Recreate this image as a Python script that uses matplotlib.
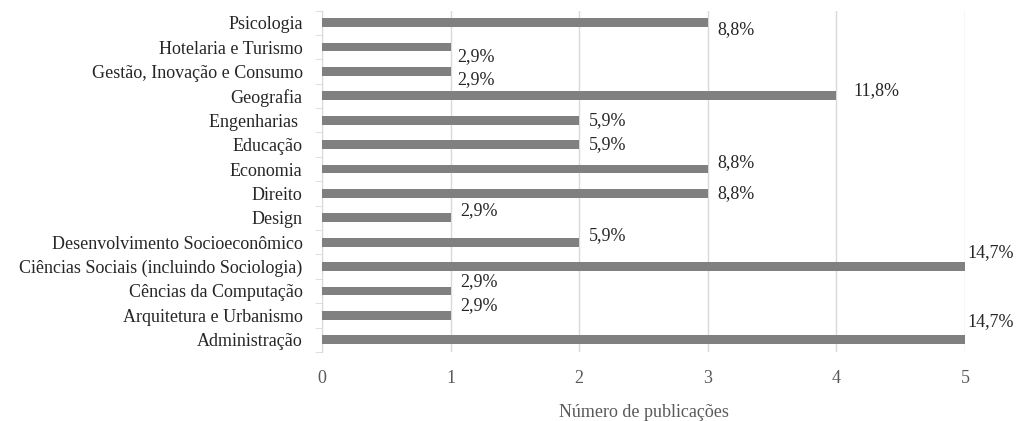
import numpy as np
import matplotlib.pyplot as plt

plt.rcParams['font.family'] = ['Liberation Serif', 'DejaVu Serif']

areas = [
    "Administração",
    "Arquitetura e Urbanismo",
    "Cências da Computação",
    "Ciências Sociais (incluindo Sociologia)",
    "Desenvolvimento Socioeconômico",
    "Design",
    "Direito",
    "Economia",
    "Educação",
    "Engenharias ",
    "Geografia",
    "Gestão, Inovação e Consumo",
    "Hotelaria e Turismo",
    "Psicologia",
]
counts = [5, 1, 1, 5, 2, 1, 3, 3, 2, 2, 4, 1, 1, 3]
pct_labels = ["14,7%", "2,9%", "2,9%", "14,7%", "5,9%", "2,9%", "8,8%",
              "8,8%", "5,9%", "5,9%", "11,8%", "2,9%", "2,9%", "8,8%"]

# label nudges (points) as placed in the original chart
dx = [2, 7, 7, 2, 7, 7, 7, 7, 7, 7, 12, 5, 5, 7]
dy = [13, 7, 7, 10, 5, 5, 0, 5, 0, 0, 4, -6, -7, -5]

fig, ax = plt.subplots(figsize=(10.19, 4.21), dpi=100)
fig.subplots_adjust(left=0.316, right=0.947, top=0.975, bottom=0.164)

y = np.arange(len(areas))
ax.barh(y, counts, height=0.36, color='#808080', zorder=3)

for i in range(len(areas)):
    ax.annotate(pct_labels[i], (counts[i], y[i]), xytext=(dx[i], dy[i]),
                textcoords='offset points', ha='left', va='center',
                fontsize=13, color='#262626', zorder=4)

ax.set_xlim(0, 5)
ax.set_ylim(-0.5, len(areas) - 0.5)
ax.set_xticks(range(6))
ax.set_yticks(y)
ax.set_yticklabels(areas)
ax.set_yticks(np.arange(-0.5, len(areas)), minor=True)

ax.grid(axis='x', color='#d9d9d9', linewidth=1, zorder=0)
for s in ['top', 'right', 'bottom']:
    ax.spines[s].set_visible(False)
ax.spines['left'].set_color('#d9d9d9')

ax.tick_params(axis='y', which='major', length=0, labelsize=13, labelcolor='#262626', pad=14)
ax.tick_params(axis='y', which='minor', length=5, color='#d9d9d9')
ax.tick_params(axis='x', length=0, labelsize=13, labelcolor='#595959', pad=13)

ax.set_xlabel("Número de publicações", fontsize=13, color='#595959', labelpad=12)

fig.savefig('out.png', dpi=100)
